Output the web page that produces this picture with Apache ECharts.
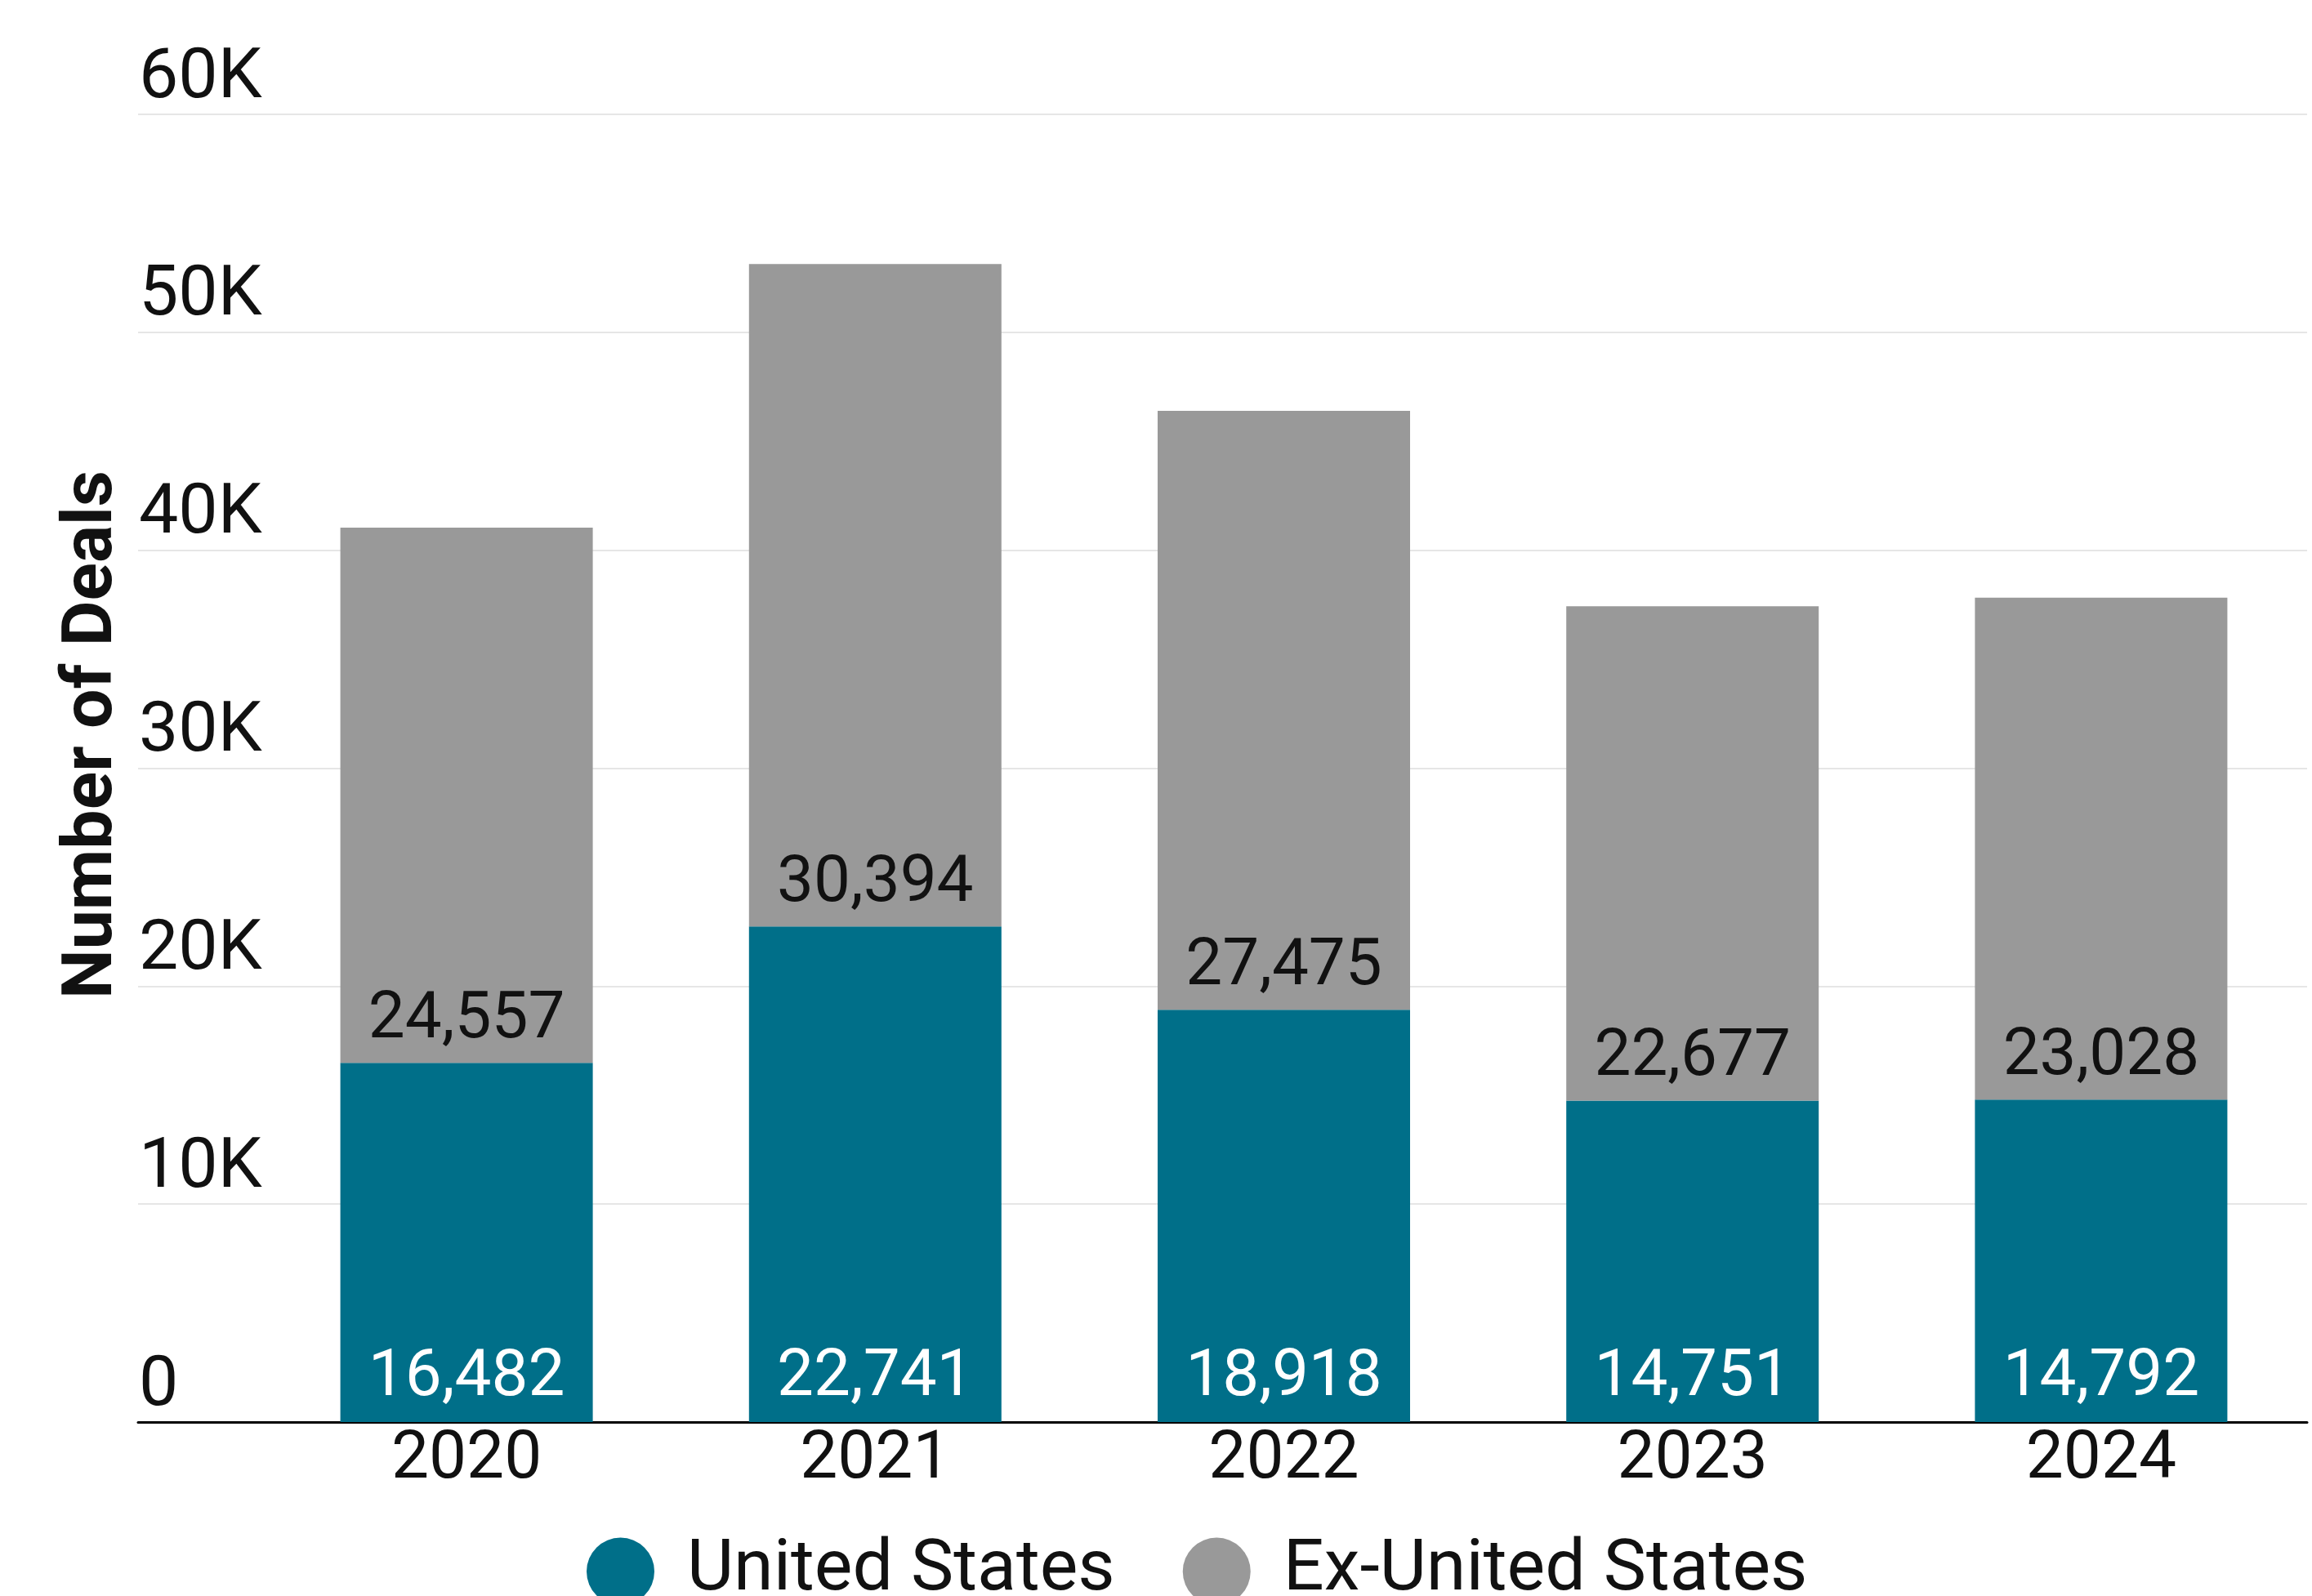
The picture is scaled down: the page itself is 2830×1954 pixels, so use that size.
<!DOCTYPE html>
<html><head><meta charset="utf-8">
<script src="https://cdn.jsdelivr.net/npm/echarts@6/dist/echarts.min.js"></script>
<style>html,body{margin:0;padding:0;background:#fff}#c{width:2830px;height:1954px}</style>
</head><body><div id="c"></div>
<script>
const categories = ['2020', '2021', '2022', '2023', '2024'];
const usDeals = [16482, 22741, 18918, 14751, 14792];
const exUsDeals = [24557, 30394, 27475, 22677, 23028];
const seriesNames = ['United States', 'Ex-United States'];
const yMin = 0, yMax = 60000, yStep = 10000;

const FONT = 'Roboto';
const fmtK = v => v === 0 ? '0' : (v / 1000) + 'K';
const fmtN = p => Number(p.value).toLocaleString('en-US');

const chart = echarts.init(document.getElementById('c'), null, {renderer: 'canvas'});
chart.setOption({
  animation: false,
  backgroundColor: '#ffffff',
  textStyle: {fontFamily: FONT},
  grid: [
    {left: 169, right: 6, top: 140, bottom: 213},
    {left: 321, right: 8, top: 140, bottom: 213}
  ],
  legend: {
    data: seriesNames,
    left: 713, top: 1875,
    icon: 'circle', itemWidth: 83, itemHeight: 83, itemGap: 83,
    textStyle: {fontFamily: FONT, fontSize: 88, color: '#111', padding: [0, 0, 0, 35]}
  },
  xAxis: [
    {gridIndex: 0, type: 'category', data: categories,
     axisLine: {show: true, lineStyle: {color: '#000', width: 3}},
     axisTick: {show: false}, axisLabel: {show: false}, splitLine: {show: false}},
    {gridIndex: 1, type: 'category', data: categories,
     axisLine: {show: false}, axisTick: {show: false},
     axisLabel: {fontFamily: FONT, fontSize: 82, color: '#111', margin: 6}}
  ],
  yAxis: [
    {gridIndex: 0, type: 'value', min: yMin, max: yMax, interval: yStep,
     name: 'Number of Deals', nameLocation: 'middle', nameGap: 12,
     nameTextStyle: {fontFamily: FONT, fontSize: 86, fontWeight: 'bold', color: '#111', padding: [0, 0, 0, 82]},
     axisLine: {show: false}, axisTick: {show: false},
     splitLine: {show: true, lineStyle: {color: '#e6e6e6', width: 2}},
     axisLabel: {inside: true, margin: 1, verticalAlign: 'bottom', padding: [0, 0, 0, 0],
                 fontFamily: FONT, fontSize: 86, color: '#111', formatter: fmtK}},
    {gridIndex: 1, type: 'value', min: yMin, max: yMax, interval: yStep, show: false,
     splitLine: {show: false}}
  ],
  series: [
    {name: seriesNames[0], type: 'bar', stack: 'deals', xAxisIndex: 1, yAxisIndex: 1,
     data: usDeals, barWidth: 309, itemStyle: {color: '#006f89'},
     label: {show: true, position: 'insideBottom', distance: 13, fontFamily: FONT, fontSize: 80, color: '#ffffff', formatter: fmtN}},
    {name: seriesNames[1], type: 'bar', stack: 'deals', xAxisIndex: 1, yAxisIndex: 1,
     data: exUsDeals, barWidth: 309, itemStyle: {color: '#999999'},
     label: {show: true, position: 'insideBottom', distance: 11, fontFamily: FONT, fontSize: 80, color: '#111', formatter: fmtN}}
  ]
});
</script></body></html>
